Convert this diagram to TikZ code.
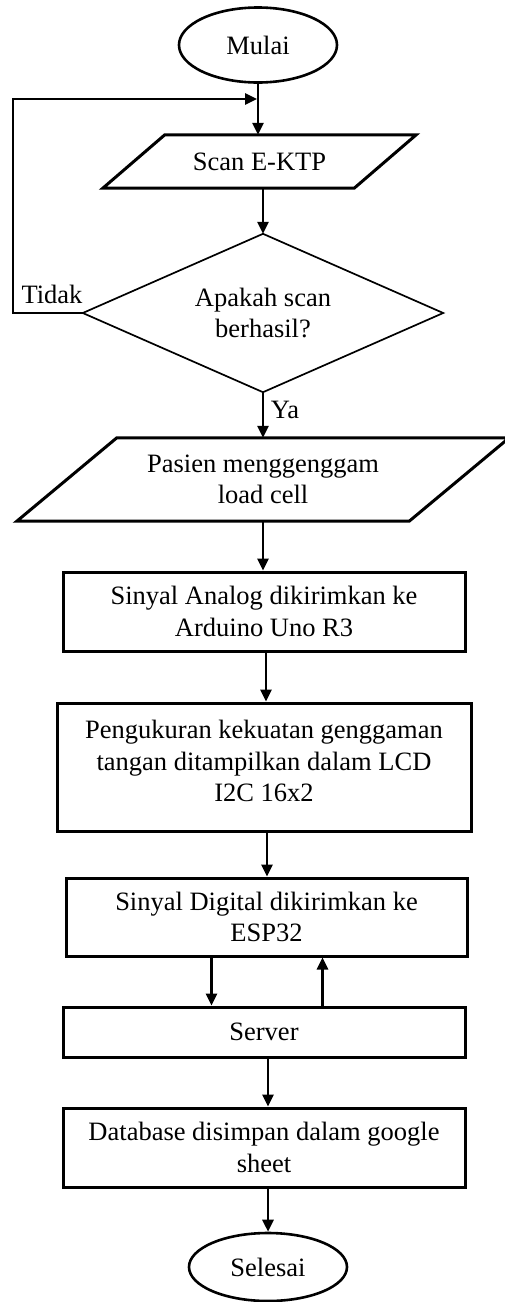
\documentclass[tikz,border=0pt]{standalone}
\usepackage{fontspec}
\setmainfont{Liberation Serif}
\usetikzlibrary{arrows.meta,shapes.geometric}
\begin{document}
\begin{tikzpicture}[x=1pt,y=-1pt,
  every node/.style={font=\fontsize{26.5}{31.5}\selectfont, inner sep=0pt},
  term/.style={ellipse, draw, line width=2.6pt},
  proc/.style={rectangle, draw, line width=3pt, align=center},
  io/.style={rectangle, align=center},
  outline/.style={line width=3pt, line join=miter},
  thin outline/.style={line width=1.7pt, line join=miter},
  arr/.style={line width=2.6pt, -{Triangle[length=12pt,width=11pt]}},
  lbl/.style={inner sep=0pt},
]
\useasboundingbox (0,0) rectangle (504,1302);
\node[term, minimum width=158pt, minimum height=75pt] (mulai) at (258,45) {Mulai};
\node[io, minimum width=251pt, minimum height=53pt] (scan) at (259.5,161.5) {Scan E-KTP};
\draw[outline] ([xshift=31pt]scan.north west) -- ([xshift=31pt]scan.north east) -- ([xshift=-31pt]scan.south east) -- ([xshift=-31pt]scan.south west) -- cycle;
\node[io, minimum width=360pt, minimum height=158pt] (dec) at (263,313) {Apakah scan\\berhasil?};
\draw[thin outline] (dec.north) -- (dec.east) -- (dec.south) -- (dec.west) -- cycle;
\node[io, minimum width=392pt, minimum height=83pt] (pasien) at (263,479.5) {Pasien menggenggam\\load cell};
\draw[outline] ([xshift=50pt]pasien.north west) -- ([xshift=50pt]pasien.north east) -- ([xshift=-50pt]pasien.south east) -- ([xshift=-50pt]pasien.south west) -- cycle;
\node[proc, minimum width=402pt, minimum height=79pt] (analog) at (264,611.5) {Sinyal Analog dikirimkan ke\\Arduino Uno R3};
\node[proc, minimum width=414pt, minimum height=128pt] (peng) at (264,767) {Pengukuran kekuatan genggaman\\tangan ditampilkan dalam LCD\\I2C 16x2\\[-19.5pt]\mbox{}};
\node[proc, minimum width=401pt, minimum height=78pt] (digital) at (266.5,917) {Sinyal Digital dikirimkan ke\\ESP32};
\node[proc, minimum width=402pt, minimum height=50pt] (server) at (264,1032) {Server};
\node[proc, minimum width=402pt, minimum height=79pt] (db) at (264,1147.5) {Database disimpan dalam google\\sheet};
\node[term, minimum width=158pt, minimum height=68pt] (selesai) at (268,1267) {Selesai};
\node[lbl] (tidak) at (52,294) {Tidak};
\node[lbl] (ya) at (285,410) {Ya};
\coordinate (join) at (257,99);
\coordinate (loopcorner) at (13,99);
\draw[arr] (mulai.south) -- (mulai.south |- scan.north);
\draw[arr] (dec.north |- scan.south) -- (dec.north);
\draw[arr] (dec.west) -| (loopcorner) -- (join);
\draw[arr] (dec.south) -- (dec.south |- pasien.north);
\draw[arr] (pasien.south) -- (pasien.south |- analog.north);
\draw[arr] ([xshift=2pt]analog.south) -- ([xshift=2pt]analog.south |- peng.north);
\draw[arr] ([xshift=3pt]peng.south) -- ([xshift=3pt]peng.south |- digital.north);
\draw[arr] ([xshift=-55pt]digital.south) -- ([xshift=-55pt]digital.south |- server.north);
\draw[arr] ([xshift=56pt]digital.south |- server.north) -- ([xshift=56pt]digital.south);
\draw[arr] ([xshift=4pt]server.south) -- ([xshift=4pt]server.south |- db.north);
\draw[arr] ([xshift=4pt]db.south) -- (selesai.north);
\end{tikzpicture}
\end{document}
